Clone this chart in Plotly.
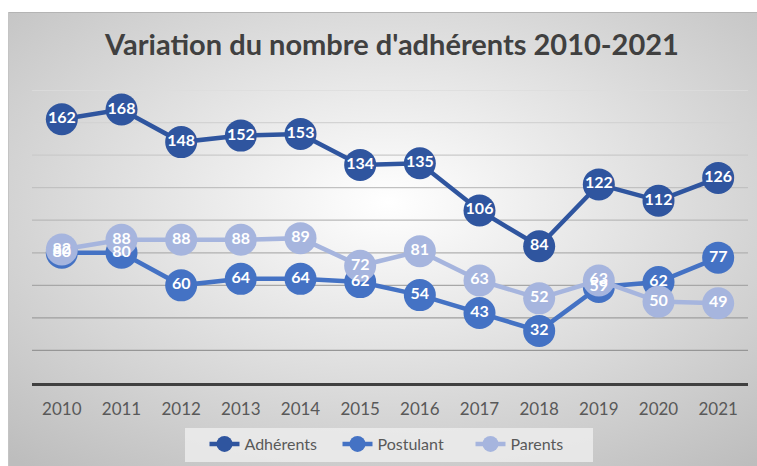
import base64
import plotly.graph_objects as go

years = ["2010", "2011", "2012", "2013", "2014", "2015", "2016", "2017", "2018", "2019", "2020", "2021"]
adherents = [162, 168, 148, 152, 153, 134, 135, 106, 84, 122, 112, 126]
postulant = [80, 80, 60, 64, 64, 62, 54, 43, 32, 59, 62, 77]
parents = [82, 88, 88, 88, 89, 72, 81, 63, 52, 63, 50, 49]
grid_values = [20, 40, 60, 80, 100, 120, 140, 160, 180]

series = [
    ("Adhérents", adherents, "#2F559F"),
    ("Postulant", postulant, "#4472C4"),
    ("Parents", parents, "#A6B5DE"),
]

FONT = "Lato, 'Open Sans', sans-serif"

fig = go.Figure()
for name, vals, col in series:
    fig.add_trace(go.Scatter(
        x=years, y=vals, name=name, mode="lines+markers",
        line=dict(color=col, width=4.5),
        marker=dict(size=32, color=col, line=dict(width=0)),
        hoverinfo="skip", cliponaxis=False,
    ))
for name, vals, col in series:
    fig.add_trace(go.Scatter(
        x=years, y=vals, mode="text", text=[str(v) for v in vals],
        textposition="middle center",
        textfont=dict(color="white", size=16, family=FONT, weight="bold"),
        showlegend=False, hoverinfo="skip", cliponaxis=False,
    ))

# gradient background
W, H = 760, 454
svg = (
    f'<svg xmlns="http://www.w3.org/2000/svg" viewBox="0 0 {W} {H}" preserveAspectRatio="none">'
    '<defs><radialGradient id="g" cx="50%" cy="42%" r="75%">'
    '<stop offset="0" stop-color="#ffffff"/><stop offset="1" stop-color="#bdbdbd"/>'
    '</radialGradient></defs>'
    f'<rect x="0" y="0" width="{W}" height="{H}" fill="url(#g)"/>'
    f'<line x1="0" y1="0.5" x2="{W}" y2="0.5" stroke="#b4b4b4" stroke-width="1"/>'
    f'<line x1="0.5" y1="0" x2="0.5" y2="{H}" stroke="#c4c4c4" stroke-width="1"/>'
    '</svg>'
)
src = "data:image/svg+xml;base64," + base64.b64encode(svg.encode()).decode()

ml, mr, mt, mb = 32, 9, 90, 83
pw = 757 - ml - mr
ph = 466 - mt - mb
base_y = 466 - mb
fig.add_layout_image(dict(
    source=src, xref="paper", yref="paper",
    x=(8 - ml) / pw, y=(base_y - 12) / ph,
    sizex=W / pw, sizey=H / ph,
    xanchor="left", yanchor="top", sizing="stretch", layer="below",
))

# gridlines with slight tonal gradient
n = len(grid_values)
for i, gv in enumerate(grid_values):
    t = i / (n - 1)
    c = int(150 + t * 70)
    fig.add_shape(type="line", xref="paper", x0=0, x1=1, yref="y", y0=gv, y1=gv,
                  line=dict(color=f"rgb({c},{c},{c})", width=1.3), layer="below")

# legend panel
fig.add_shape(type="rect", xref="paper", yref="paper",
              x0=(185 - ml) / pw, x1=(593 - ml) / pw,
              y0=(base_y - 462) / ph, y1=(base_y - 428) / ph,
              fillcolor="rgba(236,236,236,0.85)", line=dict(width=0), layer="below")

fig.update_layout(
    width=757, height=466,
    margin=dict(l=ml, r=mr, t=mt, b=mb, autoexpand=False),
    paper_bgcolor="white", plot_bgcolor="rgba(0,0,0,0)",
    title=dict(text="Variation du nombre d'adhérents 2010-2021",
               font=dict(family=FONT, size=29, color="#404040", weight="bold"),
               x=(392 - ml) / pw, xref="paper", xanchor="center",
               y=1 - 45 / 466, yref="container", yanchor="middle"),
    xaxis=dict(type="category", range=[-0.5, len(years) - 0.5], showgrid=False,
               showline=True, linecolor="#404040",
               linewidth=2.5, ticks="", ticklabelstandoff=9, automargin=False,
               tickfont=dict(family=FONT, size=17, color="#595959"),
               zeroline=False, fixedrange=True),
    yaxis=dict(range=[0, 180], showgrid=False, zeroline=False, showticklabels=False,
               ticks="", fixedrange=True, automargin=False),
    legend=dict(orientation="h", x=(404 - ml) / pw, xanchor="center",
                y=(base_y - 427) / ph, yanchor="top",
                entrywidth=88,
                bgcolor="rgba(0,0,0,0)",
                font=dict(family=FONT, size=16, color="#595959")),
    showlegend=True,
)

fig.write_html("out.html", config={"displayModeBar": False},
               post_script="document.body.style.margin='0';document.body.style.overflow='hidden';")
